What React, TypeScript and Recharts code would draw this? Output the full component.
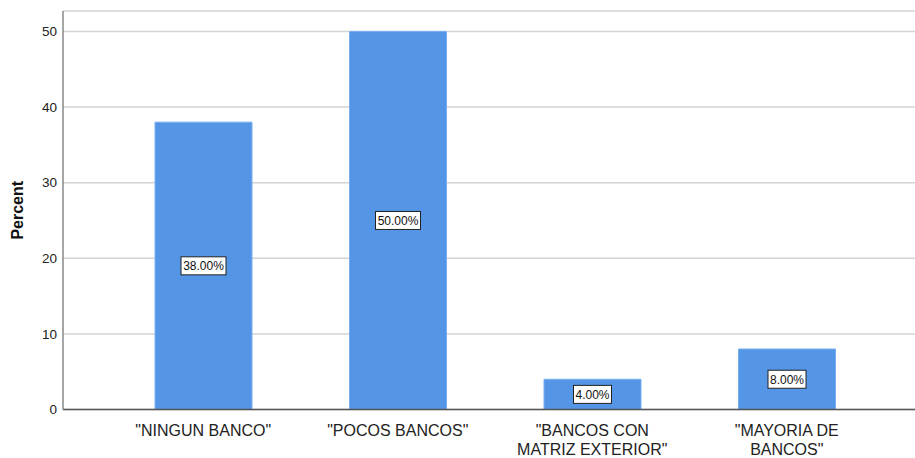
import { Bar, BarChart, CartesianGrid, LabelList, XAxis, YAxis } from 'recharts';

const categories = ['"NINGUN BANCO"', '"POCOS BANCOS"', '"BANCOS CON MATRIZ EXTERIOR"', '"MAYORIA DE BANCOS"'];
const percents = [38, 50, 4, 8];
const yTicks = [0, 10, 20, 30, 40, 50];

const data = categories.map((name, i) => ({ name, percent: percents[i] }));

const FONT = '"Liberation Sans", Arial, sans-serif';

const wrap = (text: string, max: number) => {
  const lines: string[] = [];
  let cur = '';
  for (const w of text.split(' ')) {
    const next = cur ? cur + ' ' + w : w;
    if (next.length > max && cur) {
      lines.push(cur);
      cur = w;
    } else {
      cur = next;
    }
  }
  if (cur) lines.push(cur);
  return lines;
};

const CategoryTick = (props: any) => {
  const { x, y, payload } = props;
  const lines = wrap(payload.value, 16);
  return (
    <text x={x} y={y} textAnchor="middle" fontFamily={FONT} fontSize={16} fill="#222">
      {lines.map((l, i) => (
        <tspan key={i} x={x} dy={i === 0 ? 18.5 : 18.5}>
          {l}
        </tspan>
      ))}
    </text>
  );
};

const BoxLabel = (props: any) => {
  const { x, y, width, height, value } = props;
  const cx = x + width / 2;
  const cy = y + height / 2;
  const text = `${Number(value).toFixed(2)}%`;
  const w = 7 * text.length + 3;
  return (
    <g>
      <rect x={cx - w / 2} y={cy - 9} width={w} height={18} fill="#fff" stroke="#222" strokeWidth={1} />
      <text x={cx} y={cy + 4.5} textAnchor="middle" fontFamily={FONT} fontSize={12} fill="#111">
        {text}
      </text>
    </g>
  );
};

const App = () => {
  return (
    <div style={{ position: 'absolute', left: 0, top: 0, background: '#fff' }}>
      <BarChart width={915} height={458} data={data} margin={{ top: 11, right: 0, bottom: 0, left: 0 }} barSize={97}>
        <CartesianGrid vertical={false} stroke="#d4d4d4" strokeWidth={1.5} />
        <XAxis
          dataKey="name"
          interval={0}
          tick={<CategoryTick />}
          tickLine={false}
          axisLine={{ stroke: '#555', strokeWidth: 1.5 }}
          padding={{ left: 43, right: 31 }}
          height={48.5}
        />
        <YAxis
          domain={[0, 52.7]}
          ticks={yTicks}
          width={63}
          tickLine={false}
          tickSize={0}
          tickMargin={6}
          axisLine={{ stroke: '#888', strokeWidth: 1.5 }}
          tick={{ fontFamily: FONT, fontSize: 13.5, fill: '#222' }}
          label={{
            value: 'Percent',
            angle: -90,
            position: 'insideLeft',
            dx: 12,
            style: { fontFamily: FONT, fontSize: 16, fontWeight: 'bold', fill: '#111', textAnchor: 'middle' },
          }}
        />
        <Bar dataKey="percent" fill="#5595e5" stroke="#78aef0" strokeWidth={1} isAnimationActive={false}>
          <LabelList dataKey="percent" content={<BoxLabel />} />
        </Bar>
      </BarChart>
    </div>
  );
};

export default App;
